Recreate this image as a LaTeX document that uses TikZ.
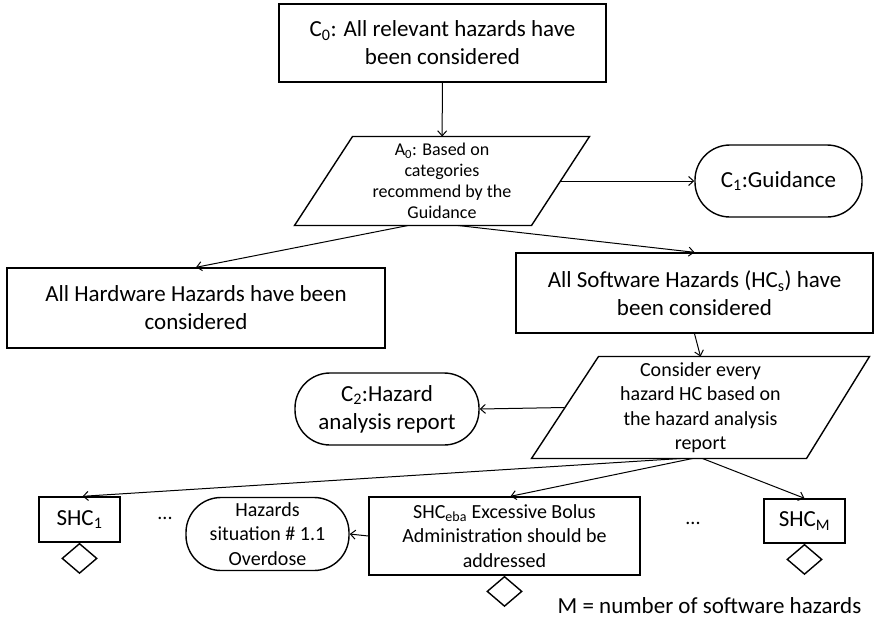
\documentclass[tikz,border=0pt]{standalone}
\usepackage{fontspec}
\setmainfont{Carlito}
\usetikzlibrary{positioning,shapes.geometric,arrows.meta}

\newcommand{\bigtxt}{\fontsize{23}{28}\selectfont}
\newcommand{\midtxt}{\fontsize{20}{24.5}\selectfont}
\newcommand{\smalltxt}{\fontsize{18}{21}\selectfont}

\tikzset{
  claim/.style={draw, line width=1.4pt, align=center, inner sep=0pt},
  context/.style={draw, line width=1.4pt, rounded corners=35pt, align=center, inner sep=0pt},
  argtext/.style={align=center, inner sep=0pt},
  goalmark/.style={draw, diamond, line width=1.4pt, minimum width=35pt, minimum height=30pt, inner sep=0pt},
}

\begin{document}
\begin{tikzpicture}[x=1pt, y=-1pt, >={Straight Barb[length=5pt,width=9pt]}, line width=1pt]
      \useasboundingbox (0,0) rectangle (876,622);

      % Define the top claim and its argument
      \node[claim, minimum width=327pt, minimum height=78pt, font=\bigtxt] (c0) at (442.5, 43) {C\textsubscript{0}: All relevant hazards have\\been considered};
      \node[argtext, minimum width=294pt, minimum height=88pt, font=\smalltxt] (a0) at (442, 181) {A\textsubscript{0}: Based on\\categories\\recommend by the\\Guidance};
      \draw[line width=1.4pt] ([xshift=58pt]a0.north west) -- (a0.north east) -- ([xshift=-58pt]a0.south east) -- (a0.south west) -- cycle;
      \node[context, minimum width=167pt, minimum height=72pt, font=\bigtxt] (c1) at (778.5, 181) {C\textsubscript{1}:Guidance};

      % Hardware and software claims
      \node[claim, minimum width=378pt, minimum height=80pt, font=\bigtxt] (hw) at (196, 308) {All Hardware Hazards have been\\considered};
      \node[claim, minimum width=357pt, minimum height=80pt, font=\bigtxt] (sw) at (694.5, 293) {All Software Hazards (HC\textsubscript{s}) have\\been considered};

      \node[argtext, minimum width=337pt, minimum height=101pt, font=\midtxt] (p2) at (700.5, 407.5) {Consider every\\hazard HC based on\\the hazard analysis\\report};
      \draw[line width=1.4pt] ([xshift=67pt]p2.north west) -- (p2.north east) -- ([xshift=-63pt]p2.south east) -- (p2.south west) -- cycle;
      \node[context, minimum width=184pt, minimum height=72pt, font=\bigtxt] (c2) at (387, 409) {C\textsubscript{2}:Hazard\\analysis report};

      % Software hazard claims
      \node[claim, minimum width=81pt, minimum height=45pt, font=\bigtxt] (shc1) at (79.5, 519.5) {SHC\textsubscript{1}};
      \node[font=\midtxt] (dots1) at (165, 518) {...};
      \node[context, minimum width=163pt, minimum height=73pt, font=\midtxt] (hz) at (267.5, 534) {Hazards\\situation \# 1.1\\Overdose};
      \node[claim, minimum width=271pt, minimum height=78pt, font=\midtxt] (eba) at (504.5, 536) {SHC\textsubscript{eba} Excessive Bolus\\Administration should be\\addressed};
      \node[font=\midtxt] (dots2) at (693, 523) {...};
      \node[claim, minimum width=81pt, minimum height=44pt, font=\bigtxt] (shcm) at (804.5, 521) {SHC\textsubscript{M}};

      \node[goalmark, below=0pt of shc1] (d1) {};
      \node[goalmark, below=0pt of eba] (d2) {};
      \node[goalmark, below=0pt of shcm] (d3) {};

      \node[font=\bigtxt] (note) at (709.5, 606) {M = number of software hazards};

      \draw[->] (c0) -- (a0);
      \draw[->] ([xshift=-29pt]a0.east) -- (c1.west);
      \draw[->] ([xshift=-34pt]a0.south) -- (hw.north);
      \draw[->] ([xshift=16pt]a0.south) -- (sw.north);
      \draw[->] (sw.south) -- (p2.north);
      \draw[->] ([xshift=33pt]p2.west) -- (c2.east);

      \draw[->] ([xshift=-20pt]p2.south) -- ([xshift=3pt]shc1.north);
      \draw[->] ([xshift=-8pt]p2.south) -- ([xshift=6pt]eba.north);
      \draw[->] ([xshift=2pt]p2.south) -- (shcm.north);
      \draw[->] (eba.west) -- (hz.east);

      \end{tikzpicture}
\end{document}
